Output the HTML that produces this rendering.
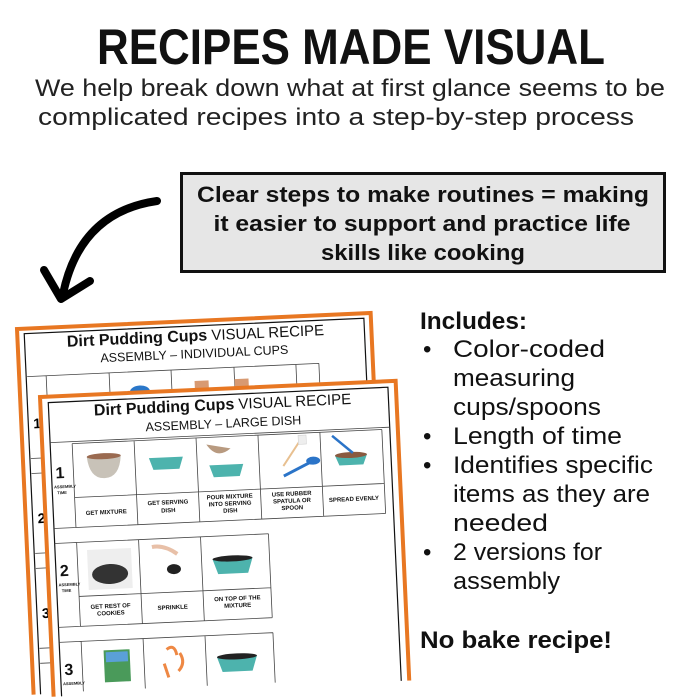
<!DOCTYPE html>
<html><head><meta charset="utf-8"><style>
html,body{margin:0;padding:0;background:#fff;width:700px;height:700px;overflow:hidden;}
svg{display:block}
</style></head><body>
<svg width="700" height="700" viewBox="0 0 700 700" xmlns="http://www.w3.org/2000/svg" font-family="Liberation Sans, sans-serif">
<rect width="700" height="700" fill="#fff"/>
<text x="351" y="64" font-size="50" font-weight="bold" text-anchor="middle" textLength="508" lengthAdjust="spacingAndGlyphs" fill="#111">RECIPES MADE VISUAL</text>
<text x="350" y="96" font-size="24" text-anchor="middle" textLength="630" lengthAdjust="spacingAndGlyphs" fill="#222">We help break down what at first glance seems to be</text>
<text x="336" y="125" font-size="24" text-anchor="middle" textLength="596" lengthAdjust="spacingAndGlyphs" fill="#222">complicated recipes into a step-by-step process</text>

<rect x="181.5" y="173.5" width="483" height="98" fill="#e6e6e6" stroke="#111" stroke-width="3"/>
<g font-size="22" font-weight="bold" fill="#111" text-anchor="middle">
<text x="423" y="202" textLength="452" lengthAdjust="spacingAndGlyphs">Clear steps to make routines = making</text>
<text x="422" y="231" textLength="417" lengthAdjust="spacingAndGlyphs">it easier to support and practice life</text>
<text x="423" y="260" textLength="204" lengthAdjust="spacingAndGlyphs">skills like cooking</text>
</g>

<g fill="none" stroke="#000" stroke-width="8" stroke-linecap="round" stroke-linejoin="round">
<path d="M157 201 Q80 212 63 294"/>
<path d="M44 270 L61 299 L90 281"/>
</g>

<g font-size="24" fill="#111">
<text x="420" y="329" font-weight="bold" textLength="107" lengthAdjust="spacingAndGlyphs">Includes:</text>
<text x="423" y="357">•</text><text x="453" y="357" textLength="152" lengthAdjust="spacingAndGlyphs">Color-coded</text>
<text x="453" y="386" textLength="122" lengthAdjust="spacingAndGlyphs">measuring</text>
<text x="453" y="415" textLength="148" lengthAdjust="spacingAndGlyphs">cups/spoons</text>
<text x="423" y="444">•</text><text x="453" y="444" textLength="169" lengthAdjust="spacingAndGlyphs">Length of time</text>
<text x="423" y="473">•</text><text x="453" y="473" textLength="200" lengthAdjust="spacingAndGlyphs">Identifies specific</text>
<text x="453" y="502" textLength="197" lengthAdjust="spacingAndGlyphs">items as they are</text>
<text x="453" y="531" textLength="95" lengthAdjust="spacingAndGlyphs">needed</text>
<text x="423" y="560">•</text><text x="453" y="560" textLength="149" lengthAdjust="spacingAndGlyphs">2 versions for</text>
<text x="453" y="589" textLength="107" lengthAdjust="spacingAndGlyphs">assembly</text>
<text x="420" y="648" font-weight="bold" textLength="192" lengthAdjust="spacingAndGlyphs">No bake recipe!</text>
</g>

<!-- back page -->
<g transform="translate(17,329) rotate(-2.6)">
<path d="M0 366 V0 H354 V366 Z" fill="#fff" stroke="none"/>
<path d="M0 366 V0 H354 V366" fill="none" stroke="#e87722" stroke-width="4"/>
<path d="M7 366 V5 H347 V366" fill="none" stroke="#111" stroke-width="1.2"/>
<text x="178" y="20" text-anchor="middle" fill="#111"><tspan font-size="16" font-weight="bold">Dirt Pudding Cups</tspan><tspan font-size="15"> VISUAL RECIPE</tspan></text>
<text x="176" y="37" font-size="12.5" text-anchor="middle" fill="#111">ASSEMBLY – INDIVIDUAL CUPS</text>
<path d="M8 48 H300 M27 48 V360 M90 48 V70 M152 48 V70 M215 48 V70 M277 48 V70 M300 48 V70 M8 130 H40 M8 145 H40 M8 225 H40 M8 240 H40 M8 320 H40 M8 335 H40" stroke="#444" stroke-width="0.8" fill="none"/>
<ellipse cx="120" cy="68" rx="10" ry="6" fill="#2a77c9"/>
<rect x="175" y="60" width="14" height="12" fill="#d89a72"/><rect x="215" y="60" width="14" height="12" fill="#d89a72"/>
<text x="12" y="100" font-size="14" font-weight="bold">1</text>
<text x="12" y="195" font-size="14" font-weight="bold">2</text>
<text x="12" y="290" font-size="14" font-weight="bold">3</text>
</g>

<!-- front page -->
<g transform="translate(40,397) rotate(-2.6)">
<path d="M0 300 V0 H356 V300 Z" fill="#fff" stroke="none"/>
<path d="M0 300 V0 H356 V300" fill="none" stroke="#e87722" stroke-width="4"/>
<path d="M8 300 V6 H348 V300" fill="none" stroke="#111" stroke-width="1.2"/>
<text x="182" y="21" text-anchor="middle" fill="#111"><tspan font-size="16" font-weight="bold">Dirt Pudding Cups</tspan><tspan font-size="15"> VISUAL RECIPE</tspan></text>
<text x="182" y="39" font-size="12.5" text-anchor="middle" fill="#111">ASSEMBLY – LARGE DISH</text>
<g stroke="#444" stroke-width="0.8" fill="none">
<path d="M8 46 H348"/>
<path d="M30 48 H340 M30 48 V132 M30 102 H340 M30 132 H340 M92 48 V132 M154 48 V132 M216 48 V132 M278 48 V132 M340 48 V132 M8 132 H30"/>
<path d="M8 147 H222 M30 147 V231 M30 201 H222 M30 231 H222 M92 147 V231 M154 147 V231 M222 147 V231 M8 231 H30"/>
<path d="M8 246 H222 M30 246 V296 M92 246 V296 M154 246 V296 M222 246 V296"/>
</g>
<g font-weight="bold" fill="#111">
<text x="12" y="82" font-size="16">1</text><text x="10" y="92" font-size="4">ASSEMBLY</text><text x="13" y="98" font-size="4">TIME</text>
<text x="12" y="180" font-size="16">2</text><text x="10" y="190" font-size="4">ASSEMBLY</text><text x="13" y="196" font-size="4">TIME</text>
<text x="12" y="279" font-size="16">3</text><text x="10" y="289" font-size="4">ASSEMBLY</text>
</g>
<g font-size="6" font-weight="bold" fill="#111" text-anchor="middle">
<text x="61" y="120">GET MIXTURE</text>
<text x="123" y="113">GET SERVING</text><text x="123" y="121">DISH</text>
<text x="185" y="110">POUR MIXTURE</text><text x="185" y="117">INTO SERVING</text><text x="185" y="124">DISH</text>
<text x="247" y="110">USE RUBBER</text><text x="247" y="117">SPATULA OR</text><text x="247" y="124">SPOON</text>
<text x="309" y="118">SPREAD EVENLY</text>
<text x="61" y="214">GET REST OF</text><text x="61" y="221">COOKIES</text>
<text x="123" y="218">SPRINKLE</text>
<text x="188" y="212">ON TOP OF THE</text><text x="188" y="219">MIXTURE</text>
</g>
<path d="M44 62 h34 q-2 22 -17 22 q-15 0 -17 -22z" fill="#c8c2b8"/><ellipse cx="61" cy="62" rx="17" ry="3" fill="#9a6a50"/>
<path d="M106 66 h34 l-4 12 h-26z" fill="#4db3ad"/>
<path d="M166 76 h34 l-4 12 h-26z" fill="#4db3ad"/><path d="M164 55 q10 16 24 5z" fill="#b89a80"/>
<path d="M240 80 L258 55" stroke="#e8c090" stroke-width="2"/><rect x="256" y="50" width="8" height="9" fill="#eee" stroke="#ccc" stroke-width="0.5"/>
<path d="M240 90 L266 78" stroke="#2b74c8" stroke-width="3"/><ellipse cx="270" cy="76" rx="7" ry="4" fill="#2b74c8"/>
<path d="M292 72 h32 l-4 10 h-24z" fill="#4db3ad"/><ellipse cx="308" cy="72" rx="16" ry="3" fill="#8a5a40"/><path d="M290 52 L310 70" stroke="#2b74c8" stroke-width="2.5"/>
<rect x="40" y="155" width="44" height="40" fill="#eee"/><ellipse cx="62" cy="180" rx="18" ry="10" fill="#333"/>
<path d="M105 155 q12 -2 25 8" stroke="#e8c0a8" stroke-width="4" fill="none"/><ellipse cx="126" cy="178" rx="7" ry="5" fill="#222"/>
<path d="M165 170 h40 l-5 15 h-30z" fill="#4db3ad"/><ellipse cx="185" cy="170" rx="20" ry="3" fill="#222"/>
<rect x="52" y="256" width="26" height="32" fill="#4a9a5a"/><rect x="54" y="258" width="22" height="10" fill="#5aa0d8"/>
<path d="M115 258 q8 -6 10 6 M128 262 q6 10 -2 18 M112 272 l4 14" stroke="#e84" stroke-width="3" fill="none"/>
<path d="M165 268 h40 l-5 15 h-30z" fill="#4db3ad"/><ellipse cx="185" cy="268" rx="20" ry="3" fill="#222"/>
</g>
</svg>
</body></html>
